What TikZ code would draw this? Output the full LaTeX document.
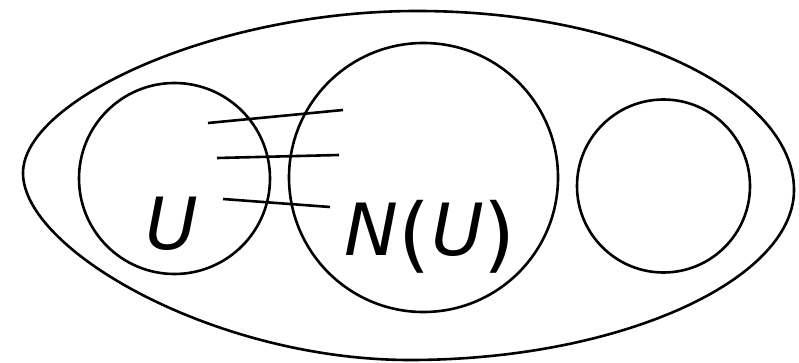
\documentclass[tikz,border=0pt]{standalone}
\usepackage{fontspec}
\setmainfont{DejaVu Sans}
\usetikzlibrary{positioning}
\newcommand{\bigpar}[1]{\raisebox{-7pt}{\fontsize{82}{90}\selectfont\upshape #1}}

\begin{document}
\begin{tikzpicture}[x=1pt,y=-1pt,line width=2.6pt,
 c/.style={draw,circle,inner sep=0pt},
 t/.style={anchor=base,inner sep=0pt,font=\fontsize{72}{86}\selectfont\itshape}]
\useasboundingbox (0,0) rectangle (799,363);
% outer set
\draw (23,173) .. controls (23,100) and (215,11) .. (417,11)
 .. controls (630,11) and (794,95) .. (794,190)
 .. controls (794,280) and (620,360) .. (410,360)
 .. controls (215,360) and (23,250) .. cycle;
\node[c,minimum size=191pt] (u) at (174.5,178.5) {};
\node[c,minimum size=269pt] (n) at (423.5,177.5) {};
\node[c,minimum size=173pt] (r) at (663.5,186) {};
\node[t] (lu) at (172,249) {U};
\node[t] (ln) at (430,255) {N\bigpar{(}\kern1ptU\bigpar{)}};
% edges between U and N(U)
\coordinate (p1) at (208,123); \coordinate (q1) at (343,110);
\coordinate (p2) at (217,158); \coordinate (q2) at (339,155);
\coordinate (p3) at (223,199); \coordinate (q3) at (330,207);
\foreach \i in {1,2,3} \draw (p\i)--(q\i);
\end{tikzpicture}
\end{document}
